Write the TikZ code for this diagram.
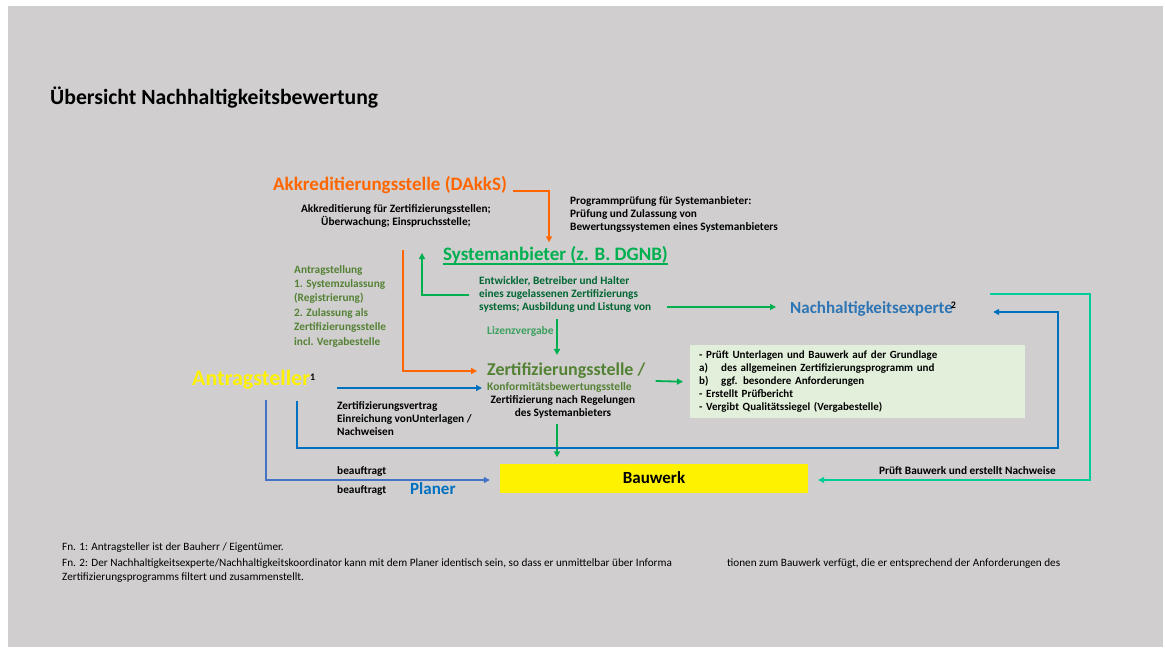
\documentclass[tikz,border=0pt]{standalone}
\usepackage{fontspec}
\setmainfont{Carlito}
\usepackage{tikz}
\usetikzlibrary{arrows.meta, positioning, calc}
\definecolor{bggray}{RGB}{208,206,206}
\definecolor{akkorange}{RGB}{255,102,0}
\definecolor{sysgreen}{RGB}{0,176,80}
\definecolor{devgreen}{RGB}{0,102,51}
\definecolor{olivegreen}{RGB}{84,130,53}
\definecolor{lizgreen}{RGB}{60,160,95}
\definecolor{expblue}{RGB}{46,117,182}
\definecolor{arrblue}{RGB}{0,112,192}
\definecolor{planblue}{RGB}{68,114,196}
\definecolor{tealline}{RGB}{0,204,153}
\definecolor{boxgreen}{RGB}{226,239,218}
\tikzstyle{heading} = [font=\bfseries\fontsize{19}{22}\selectfont, inner sep=0pt, anchor=west]
\tikzstyle{desc} = [font=\bfseries\fontsize{11.3}{13}\selectfont, inner sep=0pt, align=left, anchor=west]
\tikzstyle{foot} = [font=\fontsize{11.2}{15}\selectfont, inner sep=0pt, anchor=west]
\tikzstyle{arrow} = [line width=1.8pt, -{Triangle[length=6pt,width=6pt]}]
\newcommand{\fnmark}[1]{\raisebox{5pt}{\color{black}\fontsize{10}{10}\selectfont\bfseries #1}}

\begin{document}
\begin{tikzpicture}[x=1pt,y=-1pt]
    \useasboundingbox (0,0) rectangle (1165,648);
    \fill[white] (0,0) rectangle (1165,648);
    \fill[bggray] (8,6) rectangle (1163,647);

    \node[font=\bfseries\fontsize{21.7}{25}\selectfont, inner sep=0pt, anchor=west] (title) at (50,98) {Übersicht Nachhaltigkeitsbewertung};

    \node[heading, text=akkorange] (akk) at (273,185) {Akkreditierungsstelle (DAkkS)};
    \node[desc, align=center, anchor=center] (akkdesc) at (396,216) {Akkreditierung für Zertifizierungsstellen;\\Überwachung; Einspruchsstelle;};
    \node[desc] (prog) at (570,214) {Programmprüfung für Systemanbieter:\\Prüfung und Zulassung von\\Bewertungssystemen eines Systemanbieters};

    \node[heading, text=sysgreen] (sys) at (443,255) {Systemanbieter (z. B. DGNB)};
    \draw[sysgreen, line width=1.5pt] ([yshift=-3.5pt]sys.base west) -- ([yshift=-3.5pt]sys.base east);
    \node[desc, text=devgreen] (dev) at (479,294) {Entwickler, Betreiber und Halter\\eines zugelassenen Zertifizierungs\\systems; Ausbildung und Listung von};
    \node[heading, text=expblue, font=\bfseries\fontsize{17}{20}\selectfont] (exp) at (790,309) {Nachhaltigkeitsexperte\kern-2pt\fnmark{2}};

    \node[desc, text=olivegreen, font=\bfseries\fontsize{11.3}{14.4}\selectfont] (antr) at (294,306) {Antragstellung\\1. Systemzulassung\\(Registrierung)\\2. Zulassung als\\Zertifizierungsstelle\\incl. Vergabestelle};
    \node[desc, text=lizgreen, font=\bfseries\fontsize{11.5}{13}\selectfont] (liz) at (487,331) {Lizenzvergabe};

    \node[heading, text=olivegreen, font=\bfseries\fontsize{18}{21}\selectfont] (zert) at (487,371) {Zertifizierungsstelle /};
    \node[desc, text=olivegreen, font=\bfseries\fontsize{11.5}{13}\selectfont] (konf) at (487,387) {Konformitätsbewertungsstelle};
    \node[desc, align=center, anchor=center] (zertdesc) at (563,407) {Zertifizierung nach Regelungen\\des Systemanbieters};

    \node[desc, font=\bfseries\fontsize{11}{13}\selectfont, fill=boxgreen, anchor=north west, minimum width=335pt, minimum height=73pt, text width=317pt, inner xsep=9pt] (task) at (690,345) {- Prüft Unterlagen und Bauwerk auf der Grundlage\\\makebox[22pt][l]{a)}des allgemeinen Zertifizierungsprogramm und\\\makebox[22pt][l]{b)}ggf. besondere Anforderungen\\- Erstellt Prüfbericht\\- Vergibt Qualitätssiegel (Vergabestelle)};

    \node[heading, text=yellow, font=\bfseries\fontsize{22}{25}\selectfont] (antrag) at (192,380) {Antragsteller\fnmark{1}};
    \node[desc] (vertrag) at (337,419) {Zertifizierungsvertrag\\Einreichung vonUnterlagen /\\Nachweisen};

    \node[desc] (beauf1) at (337,471) {beauftragt};
    \node[desc] (beauf2) at (337,490) {beauftragt};
    \node[heading, text=arrblue, font=\bfseries\fontsize{17}{20}\selectfont] (planer) at (410,489) {Planer};
    \node[fill=yellow, minimum width=308pt, minimum height=29pt, font=\bfseries\fontsize{17}{20}\selectfont] (bau) at (654,478) {Bauwerk};
    \node[desc, anchor=east] (pruef) at (1056,471) {Prüft Bauwerk und erstellt Nachweise};

    \node[foot] (fn1) at (62,548) {Fn. 1: Antragsteller ist der Bauherr / Eigentümer.};
    \node[foot] (fn2a) at (62,564) {Fn. 2: Der Nachhaltigkeitsexperte/Nachhaltigkeitskoordinator kann mit dem Planer identisch sein, so dass er unmittelbar über Informa};
    \node[foot] (fn2b) at (727,564) {tionen zum Bauwerk verfügt, die er entsprechend der Anforderungen des};
    \node[foot] (fn2c) at (62,578) {Zertifizierungsprogramms filtert und zusammenstellt.};

    % free ends
    \coordinate (ostart) at (403,250);
    \coordinate (devout) at (667,307);
    \coordinate (lizstart) at (557,319);
    \coordinate (zdown) at (557,424);
    \coordinate (astart) at (337,388);
    \coordinate (bstart) at (297,401);
    \coordinate (bturn) at (1058,448);
    \coordinate (pstart) at (266,400);
    \coordinate (tstart) at (990,294);
    \coordinate (tturn) at (1090,480);

    % connectors
    \draw[arrow, akkorange] ([xshift=6pt,yshift=-6pt]akk.east) -| ([xshift=-6.5pt,yshift=4pt]sys.north);
    \draw[arrow, akkorange] (ostart) |- ([xshift=-10pt]zert.west);
    \draw[arrow, sysgreen] ([xshift=-10pt,yshift=-1pt]dev.west) -| ([xshift=-21pt,yshift=2pt]sys.west);
    \draw[arrow, sysgreen] (devout) -- ($(devout -| exp.west)+(-14,0)$);
    \draw[arrow, sysgreen] (lizstart) -- ($(lizstart |- zert.north)+(0,-8)$);
    \draw[arrow, sysgreen] ([xshift=10pt,yshift=-10pt]zert.east) -- ([xshift=-7pt]task.west);
    \draw[arrow, sysgreen] (zdown) -- ($(zdown |- bau.north)+(0,-6)$);
    \draw[arrow, arrblue] (astart) -- ($(astart -| konf.west)+(-5,0)$);
    \draw[arrow, arrblue] (bstart) |- (bturn) |- ([xshift=37pt,yshift=-3pt]exp.east);
    \draw[arrow, planblue] (pstart) |- ([xshift=-10pt,yshift=-2pt]bau.west);
    \draw[arrow, tealline] (tstart) -| (tturn) -- ([xshift=10pt,yshift=-2pt]bau.east);
\end{tikzpicture}
\end{document}
